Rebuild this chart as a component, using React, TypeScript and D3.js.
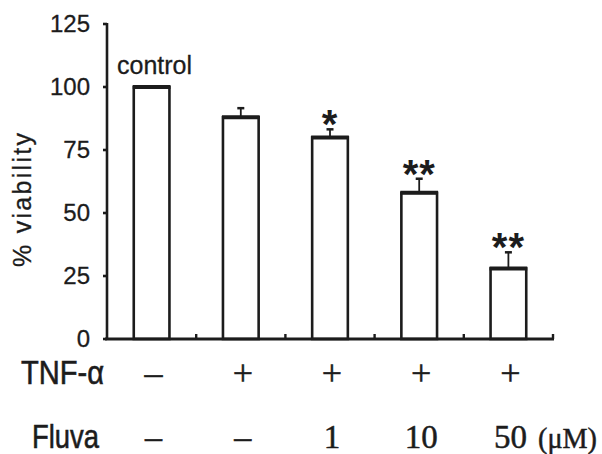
import React from "react";
import * as d3 from "d3";

const categories = ["control", "TNF", "F1", "F10", "F50"];
const values = [100, 88, 80, 58, 28];
const errors = [0, 3.6, 3.2, 5.6, 6.4];
const stars = ["", "", "*", "**", "**"];
const tnfLabels = ["\u2013", "+", "+", "+", "+"];
const fluvaLabels = ["\u2013", "\u2013", "1", "10", "50"];
const yTicks = [0, 25, 50, 75, 100, 125];

const W = 602;
const H = 454;
const ink = "#1c1c1c";
const serif = "Liberation Serif, Times New Roman, serif";

export default function App() {
  const x = d3
    .scaleBand<string>()
    .domain(categories)
    .range([107, 553])
    .paddingInner(0.6)
    .paddingOuter(0.3);
  const y = d3.scaleLinear().domain([0, 125]).range([339, 24]);
  const bw = x.bandwidth();
  const step = x.step();
  const boundaries = categories.map((c) => (x(c) as number) + bw + (step - bw) / 2);

  return (
    <svg
      width={W}
      height={H}
      viewBox={`0 0 ${W} ${H}`}
      style={{ position: "absolute", left: 0, top: 0, background: "#fff" }}
      fontFamily="Liberation Sans, Arial, sans-serif"
    >
      {/* bars */}
      {categories.map((c, i) => {
        const x0 = x(c) as number;
        const top = y(values[i]);
        const cx = x0 + bw / 2;
        const et = y(values[i] + errors[i]);
        return (
          <g key={c}>
            {errors[i] > 0 && (
              <g stroke={ink}>
                <line x1={cx} x2={cx} y1={top} y2={et} strokeWidth={1.8} />
                <line x1={cx - 3.5} x2={cx + 3.5} y1={et} y2={et} strokeWidth={2.5} />
              </g>
            )}
            <rect
              x={x0}
              y={top}
              width={bw}
              height={y(0) - top}
              fill="#fff"
              stroke={ink}
              strokeWidth={2.6}
            />
            <line x1={x0 - 1} x2={x0 + bw + 1} y1={top} y2={top} stroke={ink} strokeWidth={4} />
            {stars[i] && (
              <text
                x={cx}
                y={et - 14 + 23}
                textAnchor="middle"
                fontSize={40}
                fontWeight="bold"
                fill={ink}
                letterSpacing={1}
              >
                {stars[i]}
              </text>
            )}
          </g>
        );
      })}
      <text x={117} y={74} fontSize={25} fill={ink} stroke={ink} strokeWidth={0.3}>
        control
      </text>

      {/* y axis */}
      <line x1={107} x2={107} y1={y(125) - 1} y2={y(0) + 1} stroke={ink} strokeWidth={2.6} />
      {yTicks.map((t) => (
        <g key={t}>
          <line x1={103} x2={107} y1={y(t)} y2={y(t)} stroke={ink} strokeWidth={2.6} />
          <text x={90} y={y(t) + 8} textAnchor="end" fontSize={24} fill={ink} stroke={ink} strokeWidth={0.3}>
            {t}
          </text>
        </g>
      ))}
      <text
        transform="translate(31,200) rotate(-90)"
        textAnchor="middle"
        fontSize={25}
        fill={ink}
        stroke={ink}
        strokeWidth={0.3}
        textLength={134}
        lengthAdjust="spacing"
      >
        % viability
      </text>

      {/* x axis */}
      <line x1={105} x2={554} y1={y(0)} y2={y(0)} stroke={ink} strokeWidth={3.2} />
      {boundaries.map((b, i) => (
        <line key={i} x1={b} x2={b} y1={y(0)} y2={y(0) - 5} stroke={ink} strokeWidth={2.4} />
      ))}

      {/* treatment rows */}
      <text x={21} y={384} fontSize={34} fill={ink} stroke={ink} strokeWidth={0.6} textLength={83} lengthAdjust="spacingAndGlyphs">
        TNF-α
      </text>
      <text x={32} y={448} fontSize={34} fill={ink} stroke={ink} strokeWidth={0.6} textLength={67} lengthAdjust="spacingAndGlyphs">
        Fluva
      </text>
      {categories.map((c, i) => {
        const cx = (x(c) as number) + bw / 2;
        return (
          <g key={c} fontFamily={serif} fill={ink} stroke={ink} strokeWidth={0.5}>
            <text x={cx + 2} y={385} textAnchor="middle" fontSize={36}>
              {tnfLabels[i]}
            </text>
            <text x={cx + 2} y={448} textAnchor="middle" fontSize={i < 2 ? 34 : 33}>
              {fluvaLabels[i]}
            </text>
          </g>
        );
      })}
      <text x={538} y={448} fontSize={30} fill={ink} stroke={ink} strokeWidth={0.5} fontFamily={serif} textLength={59} lengthAdjust="spacingAndGlyphs">
        (μM)
      </text>
    </svg>
  );
}
